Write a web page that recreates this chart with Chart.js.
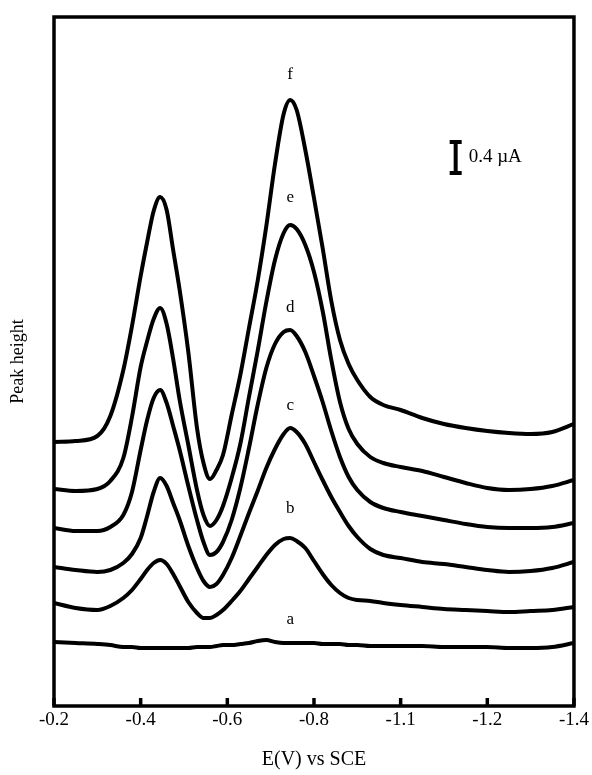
<!DOCTYPE html>
<html><head><meta charset="utf-8">
<script src="https://cdn.jsdelivr.net/npm/chart.js@4/dist/chart.umd.min.js"></script>
<style>html,body{margin:0;padding:0;background:#fff;}#wrap{width:592px;height:775px;}</style>
</head><body><div id="wrap"><canvas id="c" width="592" height="775"></canvas></div>
<script>
// Potential (V vs SCE)
const potentials = [-0.20,-0.25,-0.30,-0.33,-0.36,-0.38,-0.40,-0.415,-0.43,-0.445,-0.46,-0.475,-0.49,-0.51,-0.53,-0.545,-0.56,-0.575,-0.59,-0.61,-0.63,-0.65,-0.67,-0.69,-0.71,-0.73,-0.745,-0.76,-0.78,-0.80,-0.82,-0.84,-0.86,-0.88,-0.90,-0.93,-0.96,-1.00,-1.05,-1.10,-1.15,-1.20,-1.25,-1.30,-1.35,-1.40];
// Current traces (offset, arbitrary units)
const curveA = [0.64,0.63,0.62,0.61,0.59,0.59,0.58,0.58,0.58,0.58,0.58,0.58,0.58,0.58,0.59,0.59,0.59,0.60,0.61,0.61,0.62,0.63,0.65,0.66,0.64,0.63,0.63,0.63,0.63,0.63,0.62,0.62,0.62,0.61,0.61,0.60,0.60,0.60,0.60,0.59,0.59,0.59,0.58,0.58,0.59,0.63];
const curveB = [1.03,0.98,0.96,1.00,1.08,1.16,1.27,1.36,1.43,1.46,1.42,1.32,1.20,1.04,0.93,0.88,0.88,0.91,0.96,1.05,1.15,1.27,1.39,1.51,1.61,1.67,1.68,1.65,1.58,1.45,1.32,1.21,1.13,1.08,1.06,1.05,1.03,1.01,0.99,0.97,0.96,0.95,0.94,0.95,0.96,0.99];
const curveC = [1.39,1.36,1.34,1.36,1.43,1.52,1.68,1.90,2.14,2.28,2.20,2.03,1.86,1.60,1.38,1.25,1.19,1.22,1.31,1.48,1.70,1.93,2.15,2.38,2.57,2.72,2.78,2.74,2.62,2.44,2.26,2.09,1.94,1.80,1.69,1.57,1.51,1.48,1.44,1.42,1.39,1.36,1.34,1.35,1.38,1.44];
const curveD = [1.78,1.75,1.75,1.79,1.91,2.14,2.56,2.86,3.08,3.16,3.03,2.80,2.56,2.20,1.86,1.64,1.51,1.54,1.64,1.86,2.18,2.58,3.01,3.38,3.62,3.74,3.76,3.70,3.54,3.30,3.04,2.75,2.49,2.29,2.16,2.04,1.98,1.94,1.90,1.86,1.82,1.79,1.78,1.78,1.79,1.83];
const curveE = [2.17,2.15,2.17,2.25,2.48,2.89,3.39,3.65,3.87,3.98,3.82,3.47,3.06,2.61,2.16,1.91,1.80,1.86,2.00,2.28,2.62,3.09,3.55,4.04,4.46,4.73,4.81,4.77,4.61,4.34,3.95,3.46,3.04,2.77,2.62,2.49,2.43,2.39,2.35,2.29,2.23,2.18,2.16,2.17,2.20,2.26];
const curveF = [2.64,2.65,2.70,2.90,3.36,3.80,4.30,4.64,4.95,5.09,4.96,4.56,4.16,3.54,2.78,2.43,2.27,2.36,2.51,2.91,3.31,3.78,4.25,4.80,5.42,5.92,6.06,5.96,5.56,5.08,4.58,4.05,3.66,3.42,3.26,3.09,3.01,2.96,2.88,2.82,2.78,2.75,2.73,2.72,2.74,2.82];
const curveNames = ['a','b','c','d','e','f'];
const curveLabelHeights = [0.86,1.97,3.00,3.98,5.08,6.31];
const curveLabelPotential = -0.745;
// Axis ticks
const xTickValues = [-0.2,-0.4,-0.6,-0.8,-1.0,-1.2,-1.4];
const xTickLabels = ['-0.2','-0.4','-0.6','-0.8','-1.1','-1.2','-1.4'];
// Scale bar
const scaleBarPotential = -1.127;
const scaleBarBottom = 5.33;
const scaleBarSpan = 0.31;
const scaleBarText = '0.4 \u00b5A';
const scaleBarTextPotential = -1.157;

const SERIF = "'Liberation Serif', 'Times New Roman', serif";
const curves = [curveA, curveB, curveC, curveD, curveE, curveF];

const datasets = curves.map((c, i) => ({
  label: curveNames[i],
  data: potentials.map((p, k) => ({x: p, y: c[k]})),
  borderColor: '#000',
  borderWidth: 4,
  pointRadius: 0,
  fill: false,
  cubicInterpolationMode: 'monotone'
}));

const decor = {
  id: 'decor',
  afterDatasetsDraw(chart) {
    const {ctx, chartArea: a, scales: {x, y}} = chart;
    ctx.save();
    ctx.strokeStyle = '#000';
    ctx.fillStyle = '#000';
    ctx.lineWidth = 3.5;
    ctx.strokeRect(a.left, a.top, a.right - a.left, a.bottom - a.top);
    xTickValues.forEach(v => {
      const px = x.getPixelForValue(v);
      ctx.beginPath();
      ctx.moveTo(px, a.bottom);
      ctx.lineTo(px, a.bottom - 8);
      ctx.stroke();
    });
    ctx.font = '17px ' + SERIF;
    ctx.textAlign = 'center';
    ctx.textBaseline = 'middle';
    curveNames.forEach((n, i) => {
      ctx.fillText(n, x.getPixelForValue(curveLabelPotential), y.getPixelForValue(curveLabelHeights[i]));
    });
    const bx = x.getPixelForValue(scaleBarPotential);
    const by0 = y.getPixelForValue(scaleBarBottom);
    const by1 = y.getPixelForValue(scaleBarBottom + scaleBarSpan);
    ctx.lineWidth = 4;
    ctx.beginPath();
    ctx.moveTo(bx, by0); ctx.lineTo(bx, by1);
    ctx.moveTo(bx - 6, by0); ctx.lineTo(bx + 6, by0);
    ctx.moveTo(bx - 6, by1); ctx.lineTo(bx + 6, by1);
    ctx.stroke();
    ctx.textAlign = 'left';
    ctx.font = '19px ' + SERIF;
    ctx.fillText(scaleBarText, x.getPixelForValue(scaleBarTextPotential), (by0 + by1) / 2);
    ctx.restore();
  }
};

new Chart(document.getElementById('c'), {
  type: 'line',
  data: {datasets},
  options: {
    responsive: false,
    animation: false,
    devicePixelRatio: 1,
    layout: {padding: {top: 17, right: 11, left: 0, bottom: 0}},
    plugins: {legend: {display: false}, tooltip: {enabled: false}},
    scales: {
      x: {
        type: 'linear', min: -1.4, max: -0.2, reverse: true,
        afterBuildTicks: s => { s.ticks = xTickValues.map(v => ({value: v})); },
        ticks: {
          autoSkip: false, maxRotation: 0, padding: 3, color: '#000',
          font: {family: SERIF, size: 19},
          callback: v => { const i = xTickValues.findIndex(t => Math.abs(t - v) < 1e-9); return i >= 0 ? xTickLabels[i] : ''; }
        },
        grid: {display: false, drawTicks: false},
        border: {display: false},
        title: {display: true, text: 'E(V) vs SCE', color: '#000', font: {family: SERIF, size: 20}, padding: {top: 0, bottom: 3}},
        afterFit: s => { s.height = 69; }
      },
      y: {
        min: 0, max: 6.89,
        ticks: {display: false},
        grid: {display: false, drawTicks: false},
        border: {display: false},
        title: {display: true, text: 'Peak height', color: '#000', font: {family: SERIF, size: 18}, padding: {top: 7, bottom: 0}},
        afterFit: s => { s.width = 54; }
      }
    }
  },
  plugins: [decor]
});
</script>
</body></html>
